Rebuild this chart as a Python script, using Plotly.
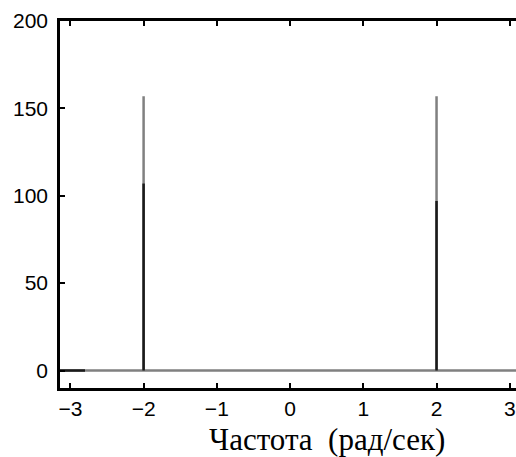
import plotly.graph_objects as go
import math

# Data
PI = math.pi
gray_freq = [-PI, -2, -2, -2, 2, 2, 2, PI]
gray_mag = [0, 0, 157, 0, 0, 157, 0, 0]
black_freq = [-PI, -2.8, None, -2, -2, None, 2, 2]
black_mag = [0, 0, None, 0, 107, None, 0, 97]
x_ticks = [-3, -2, -1, 0, 1, 2, 3]
y_ticks = [0, 50, 100, 150, 200]
x_title = "Частота  (рад/сек)"

fig = go.Figure()
fig.add_trace(go.Scatter(x=gray_freq, y=gray_mag, mode="lines",
                         line=dict(color="#808080", width=2.5), hoverinfo="skip"))
fig.add_trace(go.Scatter(x=black_freq, y=black_mag, mode="lines",
                         line=dict(color="#1a1a1a", width=2.5), hoverinfo="skip"))

fig.update_layout(
    width=516, height=457,
    margin=dict(l=60, r=0, t=21, b=69),
    paper_bgcolor="white", plot_bgcolor="white",
    showlegend=False,
    font=dict(family="Liberation Sans, Arial, sans-serif", size=21, color="black"),
)
fig.update_xaxes(range=[-PI, 3.085], tickvals=x_ticks, ticks="inside", ticklen=5,
                 tickwidth=2, tickcolor="black", showline=True, linecolor="black",
                 linewidth=2.5, mirror="ticks", showgrid=False, zeroline=False,
                 ticklabelstandoff=0)
fig.update_yaxes(range=[-10, 200], tickvals=y_ticks, ticks="inside", ticklen=5,
                 tickwidth=2, tickcolor="black", showline=True, linecolor="black",
                 linewidth=2.5, mirror=False, showgrid=False, zeroline=False,
                 ticklabelstandoff=5)
fig.add_annotation(text=x_title, xref="paper", yref="paper", x=0.586, y=-0.139,
                   showarrow=False, xanchor="center", yanchor="middle",
                   font=dict(family="Liberation Serif, Times New Roman, serif", size=31, color="black"))

fig.write_html("out.html")
